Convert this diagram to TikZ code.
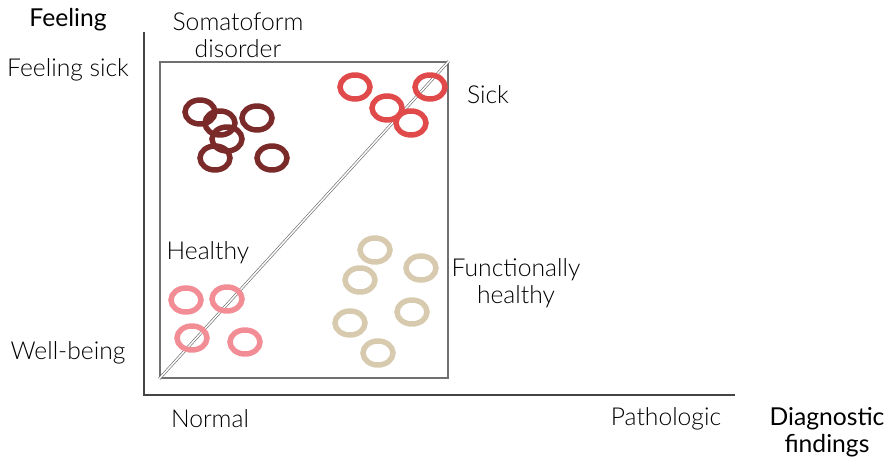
\documentclass[tikz,border=0pt]{standalone}
\usepackage{fontspec}
\setmainfont{Lato}
\newfontfamily\lightfont{Lato Light}
\usetikzlibrary{shapes.geometric}
\definecolor{somato}{HTML}{7B2A2A}
\definecolor{sickred}{HTML}{E04A4A}
\definecolor{healthypink}{HTML}{F28D96}
\definecolor{funcbeige}{HTML}{D8CAAE}
\definecolor{axisgray}{HTML}{444444}
\definecolor{boxgray}{HTML}{707070}
\begin{document}
\begin{tikzpicture}[x=0.75pt,y=-0.75pt,
  ring/.style={draw=#1, line width=4.1pt, ellipse, minimum width=22.5pt, minimum height=18pt, inner sep=0pt},
  lbl/.style={font=\lightfont\fontsize{18.5}{20.5}\selectfont, text=black, align=center, inner sep=0pt},
  axlbl/.style={font=\fontsize{18.5}{20.5}\selectfont, text=black, align=center, inner sep=0pt}]
\useasboundingbox (0,0) rectangle (890,460);
% axes
\coordinate (top) at (144,32);
\coordinate (origin) at (144,395);
\coordinate (right) at (735,395);
\draw[axisgray, line width=1.6pt] (top) -- (origin) -- (right);
% quadrant frame and diagonal
\node[draw=boxgray, line width=1.1pt, minimum width=216pt, minimum height=237pt, inner sep=0pt] (frame) at (304,220) {};
\draw[boxgray, line width=0.5pt, double=white, double distance=1.1pt] (frame.south west) -- (frame.north east);
% somatoform disorder cluster
\foreach \n/\x/\y in {a/200/112, b/220/123, c/227/139, d/257/118, e/215/158, f/272/158}
  \node[ring=somato] (s\n) at (\x,\y) {};
% sick cluster
\foreach \n/\x/\y in {a/355/87, b/387/108, c/430/87, d/411/123}
  \node[ring=sickred] (k\n) at (\x,\y) {};
% healthy cluster
\foreach \n/\x/\y in {a/186/300, b/227/299, c/192/338, d/245/342}
  \node[ring=healthypink] (h\n) at (\x,\y) {};
% functionally healthy cluster
\foreach \n/\x/\y in {a/375/250, b/421/268, c/360/280, d/412/312, e/350/323, f/378/353}
  \node[ring=funcbeige] (f\n) at (\x,\y) {};
% labels
\node[axlbl] (feeling) at (68,20) {Feeling};
\node[lbl] (fsick) at (68,70) {Feeling sick};
\node[lbl] (well) at (68,353) {Well-being};
\node[lbl] (somatolbl) at (238,35) {Somatoform\\disorder};
\node[lbl] (sicklbl) at (488,95) {Sick};
\node[lbl] (healthylbl) at (208,253) {Healthy};
\node[lbl] (funclbl) at (516,283) {Functionally\\healthy};
\node[lbl] (normal) at (210,419) {Normal};
\node[lbl] (patho) at (666,419) {Pathologic};
\node[axlbl] (diag) at (827,432) {Diagnostic\\findings};
\end{tikzpicture}
\end{document}
